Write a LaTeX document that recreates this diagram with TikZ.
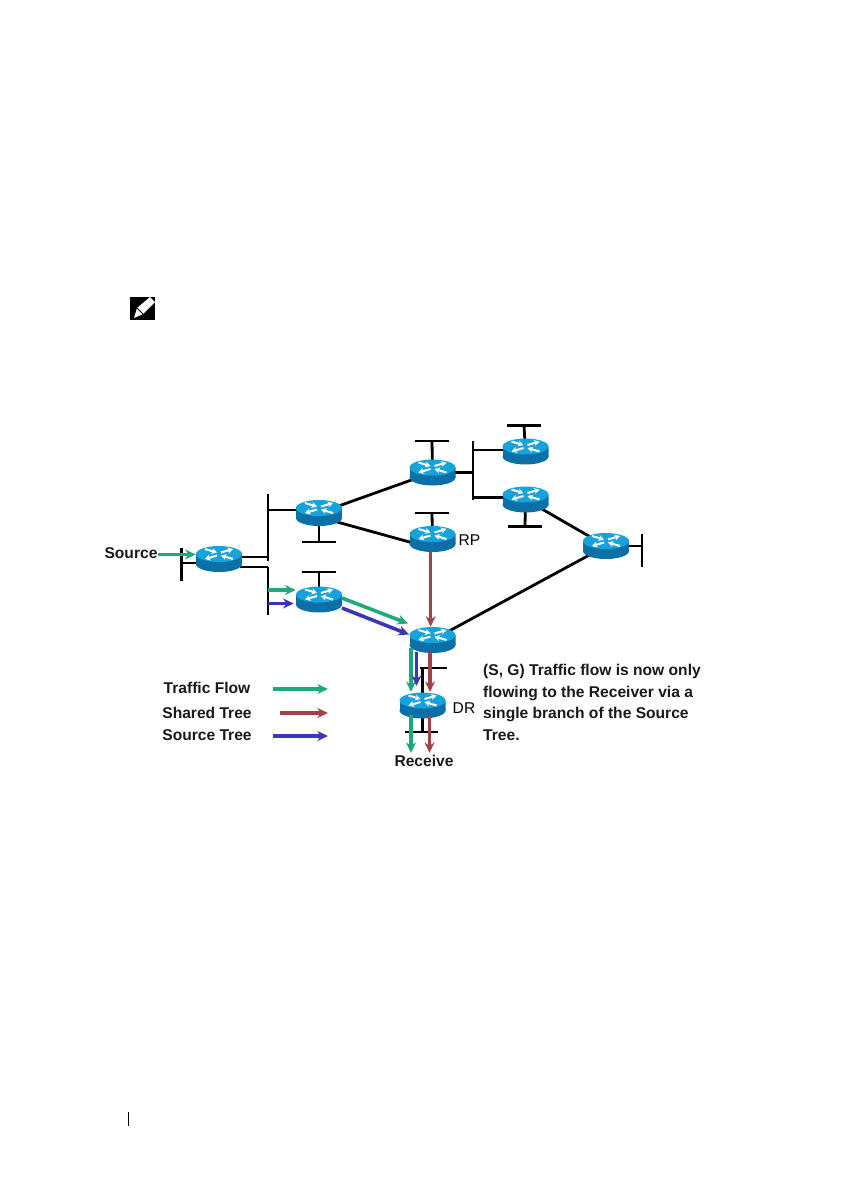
\documentclass[tikz,border=0pt]{standalone}
\usepackage{fontspec}
\setmainfont{Liberation Sans}
\usepackage{tikz}
\usetikzlibrary{arrows.meta,backgrounds}

\definecolor{routertop}{HTML}{16A3DC}
\definecolor{routerside}{HTML}{0B6FA8}
\definecolor{flowgreen}{HTML}{1FA97A}
\definecolor{sharedred}{HTML}{9E4448}
\definecolor{sourceblue}{HTML}{3A36B4}

\tikzset{
    router/.style={inner sep=0pt, minimum width=34.5pt, minimum height=19.5pt, path picture={
        \begin{scope}[shift={(path picture bounding box.center)}]
            \fill[routerside] (0,5) ellipse (23 and 8);
            \fill[routerside] (-23,-5) rectangle (23,5);
            \fill[routertop] (0,-5) ellipse (23 and 8);
            \draw[white, line width=1.5pt, -{Stealth[length=4pt,width=4.5pt]}] (-14,-10) -- (-2,-6.5);
            \draw[white, line width=1.5pt, -{Stealth[length=4pt,width=4.5pt]}] (2,-6.5) -- (14,-10);
            \draw[white, line width=1.5pt, -{Stealth[length=4pt,width=4.5pt]}] (14,0) -- (2,-3.5);
            \draw[white, line width=1.5pt, -{Stealth[length=4pt,width=4.5pt]}] (-2,-3.5) -- (-14,0);
        \end{scope}}},
    link/.style={line width=2.1pt},
    hbar/.style={fill=black, inner sep=0pt, minimum width=25pt, minimum height=2.1pt},
    vbar/.style={fill=black, inner sep=0pt, minimum width=2.1pt},
    flow/.style={line width=2.7pt, -{Stealth[length=8pt,width=7.5pt]}},
    lbl/.style={font=\fontsize{11.7}{16.3}\selectfont\bfseries, text=black!90},
    lblthin/.style={font=\fontsize{11.7}{16.3}\selectfont, text=black}
}

\begin{document}
\begin{tikzpicture}[x=0.75pt, y=-0.75pt]
    \useasboundingbox (0,0) rectangle (840,1192);

    % note icon
    \fill (130,297) rectangle (155,320);
    \fill[white] (134,318) -- (137,308) -- (150,297) -- (155,302) -- (143,314) -- cycle;
    \draw[line width=0.6pt] (137,308) -- (143,314);

    % routers
    \node[router] (src) at (219,559) {};
    \node[router] (left) at (319,513) {};
    \node[router] (low) at (319,599.5) {};
    \node[router] (top) at (432.5,472.5) {};
    \node[router] (rp) at (432.5,539) {};
    \node[router] (upper) at (525.5,451.5) {};
    \node[router] (mid) at (525.5,499.5) {};
    \node[router] (east) at (606,546) {};
    \node[router] (cross) at (432.5,640) {};
    \node[router] (dr) at (422.5,705.5) {};

    % segments
    \node[vbar, minimum height=25pt] (segsrc) at (181.5,564.5) {};
    \node[vbar, minimum height=50pt] (segup) at (268,527.5) {};
    \node[vbar, minimum height=36pt] (seglow) at (268,591) {};
    \node[vbar, minimum height=44.5pt] (segtop) at (473,470.5) {};
    \node[vbar, minimum height=25pt] (segeast) at (642,550.5) {};
    \node[hbar] (stubleft) at (319,542) {};
    \node[hbar] (stublow) at (319,572) {};
    \node[hbar] (stubtop) at (432,441) {};
    \node[hbar] (stubrp) at (432,513) {};
    \node[hbar] (stubupper) at (524,425.5) {};
    \node[hbar] (stubmid) at (525,526.5) {};
    \node[hbar, minimum width=20pt] (stubcross) at (433.5,668) {};
    \node[hbar] (stubdr) at (421.5,732) {};

    % free ends
    \coordinate (srcleft) at (196,563);
    \coordinate (srcup) at (242,557);
    \coordinate (srcdown) at (240,567);
    \coordinate (srcin) at (158,554.5);
    \coordinate (lowgreen) at (268,590);
    \coordinate (lowblue) at (268,603.5);
    \coordinate (linkleft) at (296,510);
    \coordinate (linkupper) at (503,450);
    \coordinate (linkmid) at (503,497.5);
    \coordinate (greenfrom) at (342,598);
    \coordinate (greento) at (408,623.5);
    \coordinate (bluefrom) at (342,608);
    \coordinate (blueto) at (409,634.5);
    \coordinate (downgreen) at (411,648);
    \coordinate (midgreen) at (411,692);
    \coordinate (downblue) at (416.5,652);
    \coordinate (midblue) at (416.5,686);
    \coordinate (downred) at (430,652);
    \coordinate (midred) at (430,692);
    \coordinate (drgreen) at (411,715);
    \coordinate (endgreen) at (411,753);
    \coordinate (drred) at (429.5,716);
    \coordinate (endred) at (429.5,753);
    \coordinate (stubx) at (422.5,668);

    % black links go under the routers
    \begin{scope}[on background layer]
        \draw[link] (srcleft) -- (srcleft -| segsrc.center);
        \draw[link] (srcup) -- (srcup -| segup.center);
        \draw[link] (srcdown) -- (srcdown -| seglow.center);
        \draw[link] (linkleft) -- (linkleft -| segup.center);
        \draw[link] (left.center) -- (stubleft.center);
        \draw[link] (low.center) -- (stublow.center);
        \draw[link] (left.center) -- (top.center);
        \draw[link] ([yshift=-3pt]left.center) -- ([yshift=-7pt]rp.center);
        \draw[link] (top.center) -- (stubtop.center);
        \draw[link] (rp.center) -- (stubrp.center);
        \draw[link] (top.center) -- (top.center -| segtop.center);
        \draw[link] (linkupper) -- (linkupper -| segtop.center);
        \draw[link] (linkmid) -- (linkmid -| segtop.center);
        \draw[link] (upper.center) -- (stubupper.center);
        \draw[link] (mid.center) -- (stubmid.center);
        \draw[link] (mid.center) -- (east.center);
        \draw[link] (east.center) -- (east.center -| segeast.center);
        \draw[link] (east.center) -- (cross.center);
        \draw[link] (dr.center) -- (stubx);
        \draw[link] (dr.center) -- (dr.center |- stubdr.center);
    \end{scope}

    % traffic arrows
    \draw[flow, flowgreen] (srcin) -- (srcin -| src.west);
    \draw[flow, flowgreen] (lowgreen) -- (lowgreen -| low.west);
    \draw[flow, sourceblue] (lowblue) -- ([xshift=-1.5pt]lowblue -| low.west);
    \draw[flow, flowgreen] (greenfrom) -- (greento);
    \draw[flow, sourceblue] (bluefrom) -- (blueto);
    \draw[flow, sharedred] ([xshift=-1.4pt]rp.south) -- ([xshift=-1.4pt]cross.north);
    \draw[flow, flowgreen] (downgreen) -- (midgreen);
    \draw[flow, sourceblue] (downblue) -- (midblue);
    \draw[flow, sharedred] (downred) -- (midred);
    \draw[flow, flowgreen] (drgreen) -- (endgreen);
    \draw[flow, sharedred] (drred) -- (endred);

    % labels
    \node[lbl] (srclabel) at (131,553) {Source};
    \node[lblthin] (rplabel) at (469.5,540) {RP};
    \node[lblthin] (drlabel) at (464,708) {DR};
    \node[lbl] (rcvlabel) at (424,761) {Receive};
    \node[lbl, align=left, anchor=west] (note) at (478.5,702.5) {(S, G) Traffic flow is now only\\flowing to the Receiver via a\\single branch of the Source\\Tree.};

    % legend
    \node[lbl] (flowlabel) at (207,688) {Traffic Flow};
    \node[lbl] (sharedlabel) at (207,712.5) {Shared Tree};
    \node[lbl] (sourcelabel) at (207,735) {Source Tree};
    \coordinate (flowstart) at (273,689);
    \coordinate (sharedstart) at (280,713);
    \coordinate (sourcestart) at (273,736);
    \coordinate (flowend) at (328,689);
    \coordinate (sharedend) at (328,713);
    \coordinate (sourceend) at (328,736);
    \draw[flow, flowgreen] (flowstart) -- (flowend);
    \draw[flow, sharedred] (sharedstart) -- (sharedend);
    \draw[flow, sourceblue] (sourcestart) -- (sourceend);

    % page rule
    \draw[line width=1pt] (128.5,1112) -- (128.5,1126);
\end{tikzpicture}
\end{document}
